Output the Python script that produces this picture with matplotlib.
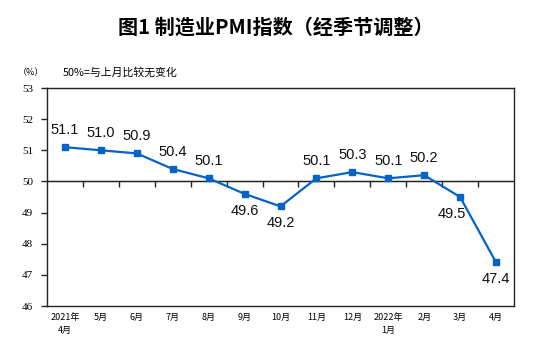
import matplotlib.pyplot as plt

plt.rcParams['font.family'] = ['Noto Sans CJK SC', 'DejaVu Sans']

months = ["2021年\n4月", "5月", "6月", "7月", "8月", "9月", "10月", "11月",
          "12月", "2022年\n1月", "2月", "3月", "4月"]
pmi = [51.1, 51.0, 50.9, 50.4, 50.1, 49.6, 49.2, 50.1, 50.3, 50.1, 50.2, 49.5, 47.4]
below = [49.6, 49.2, 49.5, 47.4]

fig = plt.figure(figsize=(5.54, 3.49), dpi=100)
ax = fig.add_axes([47 / 554, 1 - 306 / 349, 467 / 554, 218 / 349])

x = list(range(len(months)))
ax.plot(x, pmi, color="#0563C8", lw=1.6, marker="s", ms=5, zorder=3)

for xi, v in zip(x, pmi):
    off = -17 if v in below else 17
    dx = -8 if v == 49.5 else 0
    ax.annotate(f"{v:.1f}", (xi, v), xytext=(dx, off), textcoords="offset pixels",
                ha="center", va="center", fontsize=10.5, family="Liberation Sans",
                color="#111111")

ax.set_xlim(-0.5, len(months) - 0.5)
ax.set_ylim(46, 53)
ax.axhline(50, color="#222222", lw=1, zorder=2)

ax.set_xticks(x)
ax.set_xticklabels(months, fontsize=6.5, linespacing=1.6)
ax.tick_params(axis="x", length=0, pad=5)

ax.set_yticks(range(46, 54))
ax.set_yticklabels([str(v) for v in range(46, 54)], family="Liberation Serif", fontsize=8)
ax.tick_params(axis="y", direction="out", length=4, width=1, pad=6, color="#222222")

for s in ax.spines.values():
    s.set_color("#222222")
    s.set_linewidth(1)

# boundary ticks along the 50 line
sec = ax.secondary_xaxis((50 - 46) / 7)
sec.set_xticks([i + 0.5 for i in range(len(months) - 1)])
sec.set_xticklabels([])
sec.tick_params(direction="in", length=4, width=1, color="#222222")
sec.spines["bottom"].set_visible(False)

fig.text(0.497, 1 - 27 / 349, "图1 制造业PMI指数（经季节调整）", ha="center", va="center",
         fontsize=14.5, fontweight="bold")
fig.text(18 / 554, 1 - 73 / 349, "（%）", ha="left", va="center", fontsize=6.5)
fig.text(63 / 554, 1 - 72 / 349, "50%=与上月比较无变化", ha="left", va="center", fontsize=7.8)

fig.savefig("out.png", dpi=100)
